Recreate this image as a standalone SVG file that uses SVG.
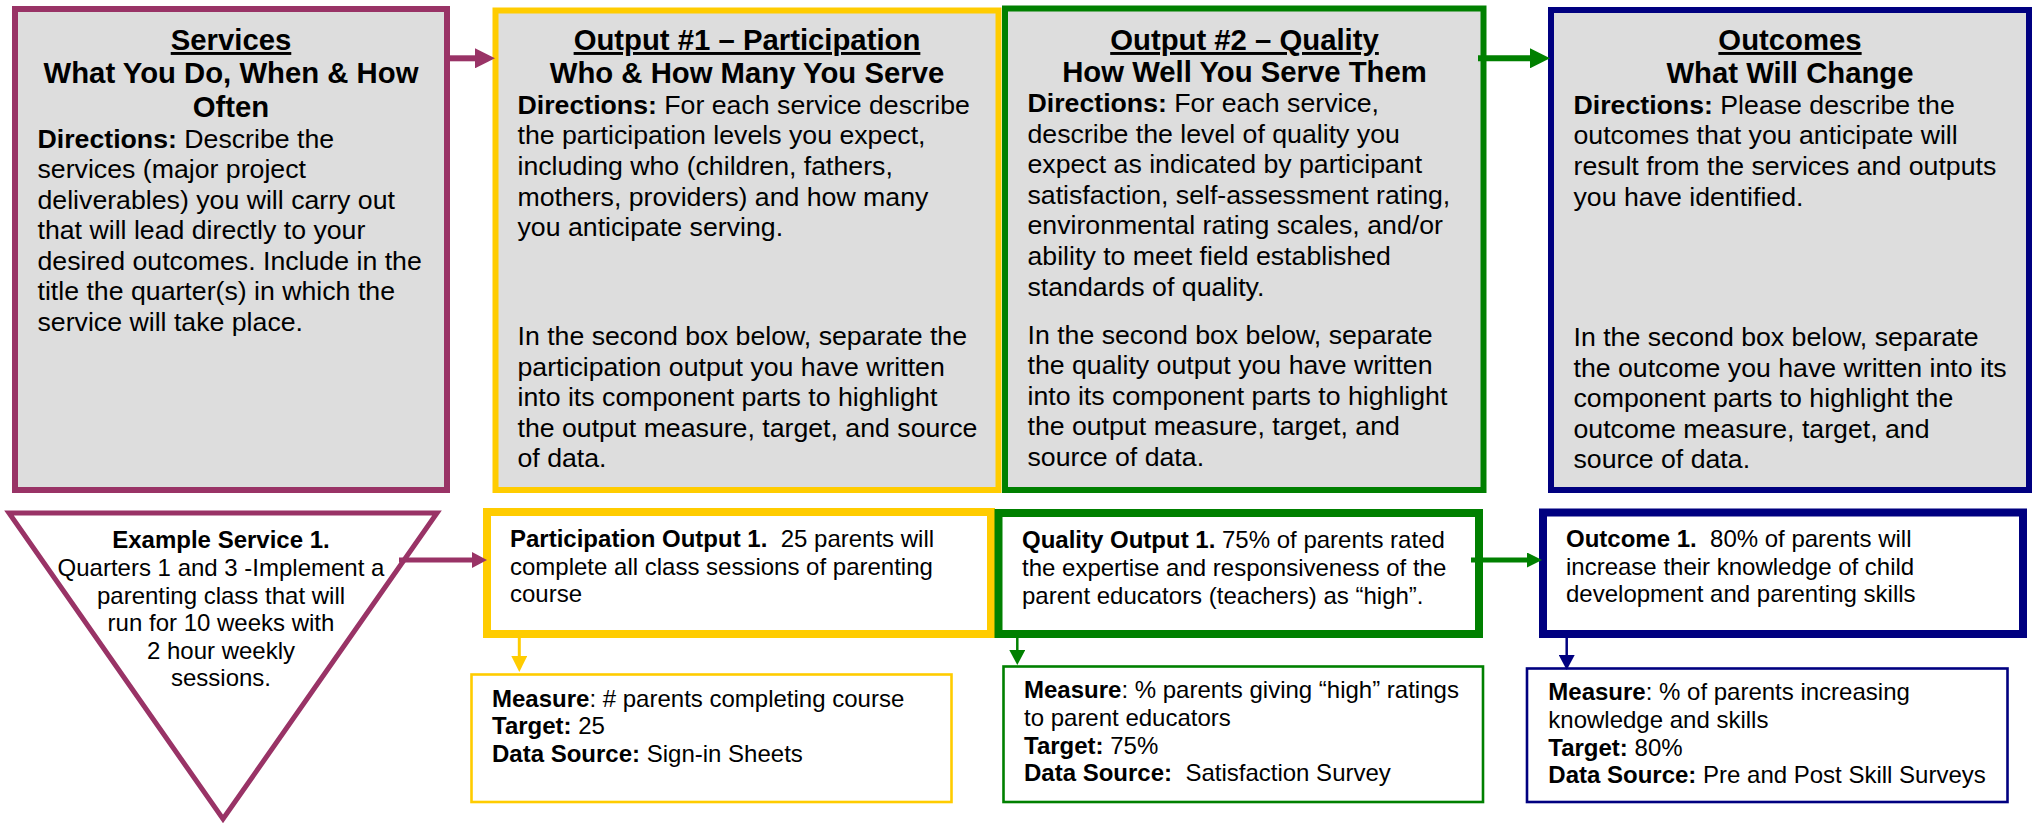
<svg xmlns="http://www.w3.org/2000/svg" width="2032" height="827" viewBox="0 0 2032 827">
<style>
text{font-family:"Liberation Sans",Arial,Helvetica,sans-serif;fill:#000}
.ttl{font-size:29.3px;font-weight:bold;text-anchor:middle}
.u{text-decoration:underline}
.bd{font-size:26.7px}
.sm{font-size:24px}
.b{font-weight:bold}
.top{fill:#dddddd;stroke-width:6}
.mid{fill:#ffffff;stroke-width:8}
.meas{fill:#ffffff;stroke-width:2.6}
.pur{stroke:#993366}.yel{stroke:#ffcc00}.grn{stroke:#008000}.nav{stroke:#000080}
.con{fill:none}
</style>
<defs>
<marker id="hPurL" markerUnits="userSpaceOnUse" viewBox="0 0 20 20" refX="0" refY="10" markerWidth="20" markerHeight="20" orient="auto"><path d="M0,0L20,10L0,20z" fill="#993366"/></marker>
<marker id="hGrnL" markerUnits="userSpaceOnUse" viewBox="0 0 20 20" refX="0" refY="10" markerWidth="20" markerHeight="20" orient="auto"><path d="M0,0L20,10L0,20z" fill="#008000"/></marker>
<marker id="hPurM" markerUnits="userSpaceOnUse" viewBox="0 0 15 16" refX="0" refY="8" markerWidth="15" markerHeight="16" orient="auto"><path d="M0,0L15,8L0,16z" fill="#993366"/></marker>
<marker id="hGrnM" markerUnits="userSpaceOnUse" viewBox="0 0 15 15" refX="0" refY="7.5" markerWidth="15" markerHeight="15" orient="auto"><path d="M0,0L15,7.5L0,15z" fill="#008000"/></marker>
<marker id="hYelS" markerUnits="userSpaceOnUse" viewBox="0 0 16 16" refX="0" refY="8" markerWidth="16" markerHeight="16" orient="auto"><path d="M0,0L16,8L0,16z" fill="#ffcc00"/></marker>
<marker id="hGrnS" markerUnits="userSpaceOnUse" viewBox="0 0 15 16" refX="0" refY="8" markerWidth="15" markerHeight="16" orient="auto"><path d="M0,0L15,8L0,16z" fill="#008000"/></marker>
<marker id="hNavS" markerUnits="userSpaceOnUse" viewBox="0 0 15 16" refX="0" refY="8" markerWidth="15" markerHeight="16" orient="auto"><path d="M0,0L15,8L0,16z" fill="#000080"/></marker>
</defs>

<g id="services">
<rect class="top pur" x="15" y="9" width="432" height="481"/>
<text class="ttl" x="231" y="50"><tspan class="u">Services</tspan></text>
<text class="ttl" x="231" y="82.7">What You Do, When &amp; How</text>
<text class="ttl" x="231" y="116.5">Often</text>
<text class="bd" x="37.5" y="147.7"><tspan class="b">Directions:</tspan> Describe the</text>
<text class="bd" x="37.5" y="178.3">services (major project</text>
<text class="bd" x="37.5" y="208.8">deliverables) you will carry out</text>
<text class="bd" x="37.5" y="239.3">that will lead directly to your</text>
<text class="bd" x="37.5" y="269.8">desired outcomes. Include in the</text>
<text class="bd" x="37.5" y="300.3">title the quarter(s) in which the</text>
<text class="bd" x="37.5" y="330.8">service will take place.</text>
</g>

<g id="output1">
<rect class="top yel" x="495.5" y="10.5" width="503" height="479.5"/>
<text class="ttl" x="747" y="50"><tspan class="u">Output #1 – Participation</tspan></text>
<text class="ttl" x="747" y="82.7">Who &amp; How Many You Serve</text>
<text class="bd" x="517.5" y="113.5"><tspan class="b">Directions:</tspan> For each service describe</text>
<text class="bd" x="517.5" y="144.2">the participation levels you expect,</text>
<text class="bd" x="517.5" y="174.9">including who (children, fathers,</text>
<text class="bd" x="517.5" y="205.6">mothers, providers) and how many</text>
<text class="bd" x="517.5" y="236.3">you anticipate serving.</text>
<text class="bd" x="517.5" y="345">In the second box below, separate the</text>
<text class="bd" x="517.5" y="375.5">participation output you have written</text>
<text class="bd" x="517.5" y="406">into its component parts to highlight</text>
<text class="bd" x="517.5" y="436.5">the output measure, target, and source</text>
<text class="bd" x="517.5" y="467">of data.</text>
</g>

<g id="output2">
<rect class="top grn" x="1005" y="8.5" width="478.5" height="481.5"/>
<text class="ttl" x="1244.5" y="50"><tspan class="u">Output #2 – Quality</tspan></text>
<text class="ttl" x="1244.5" y="82">How Well You Serve Them</text>
<text class="bd" x="1027.5" y="112"><tspan class="b">Directions:</tspan> For each service,</text>
<text class="bd" x="1027.5" y="142.6">describe the level of quality you</text>
<text class="bd" x="1027.5" y="173.2">expect as indicated by participant</text>
<text class="bd" x="1027.5" y="203.8">satisfaction, self-assessment rating,</text>
<text class="bd" x="1027.5" y="234.4">environmental rating scales, and/or</text>
<text class="bd" x="1027.5" y="265">ability to meet field established</text>
<text class="bd" x="1027.5" y="295.6">standards of quality.</text>
<text class="bd" x="1027.5" y="343.5">In the second box below, separate</text>
<text class="bd" x="1027.5" y="374">the quality output you have written</text>
<text class="bd" x="1027.5" y="404.5">into its component parts to highlight</text>
<text class="bd" x="1027.5" y="435">the output measure, target, and</text>
<text class="bd" x="1027.5" y="465.5">source of data.</text>
</g>

<g id="outcomes">
<rect class="top nav" x="1551" y="10" width="478" height="480"/>
<text class="ttl" x="1790" y="50"><tspan class="u">Outcomes</tspan></text>
<text class="ttl" x="1790" y="82.7">What Will Change</text>
<text class="bd" x="1573.5" y="113.5"><tspan class="b">Directions:</tspan> Please describe the</text>
<text class="bd" x="1573.5" y="144.2">outcomes that you anticipate will</text>
<text class="bd" x="1573.5" y="174.9">result from the services and outputs</text>
<text class="bd" x="1573.5" y="205.6">you have identified.</text>
<text class="bd" x="1573.5" y="346">In the second box below, separate</text>
<text class="bd" x="1573.5" y="376.5">the outcome you have written into its</text>
<text class="bd" x="1573.5" y="407">component parts to highlight the</text>
<text class="bd" x="1573.5" y="437.5">outcome measure, target, and</text>
<text class="bd" x="1573.5" y="468">source of data.</text>
</g>

<g id="example-service">
<polygon points="9,513 437,513 223,819" fill="#ffffff" stroke="#993366" stroke-width="5"/>
<text class="sm b" x="221" y="548.3" text-anchor="middle">Example Service 1.</text>
<text class="sm" x="221" y="576" text-anchor="middle">Quarters 1 and 3 -Implement a</text>
<text class="sm" x="221" y="603.5" text-anchor="middle">parenting class that will</text>
<text class="sm" x="221" y="631" text-anchor="middle">run for 10 weeks with</text>
<text class="sm" x="221" y="658.5" text-anchor="middle">2 hour weekly</text>
<text class="sm" x="221" y="686" text-anchor="middle">sessions.</text>
</g>

<g id="participation-output">
<rect class="mid yel" x="487" y="512" width="504" height="122"/>
<text class="sm" x="510" y="546.7" xml:space="preserve"><tspan class="b">Participation Output 1.</tspan>  25 parents will</text>
<text class="sm" x="510" y="574.5">complete all class sessions of parenting</text>
<text class="sm" x="510" y="602.3">course</text>
</g>

<g id="quality-output">
<rect class="mid grn" x="998.5" y="513" width="480.5" height="121"/>
<text class="sm" x="1022" y="548" xml:space="preserve"><tspan class="b">Quality Output 1.</tspan> 75% of parents rated</text>
<text class="sm" x="1022" y="576">the expertise and responsiveness of the</text>
<text class="sm" x="1022" y="604">parent educators (teachers) as “high”.</text>
</g>

<g id="outcome">
<rect class="mid nav" x="1543" y="512.5" width="480" height="121.5"/>
<text class="sm" x="1566" y="546.7" xml:space="preserve"><tspan class="b">Outcome 1.</tspan>  80% of parents will</text>
<text class="sm" x="1566" y="574.5">increase their knowledge of child</text>
<text class="sm" x="1566" y="602.3">development and parenting skills</text>
</g>

<g id="participation-measure">
<rect class="meas yel" x="471.5" y="674.5" width="480" height="127.5"/>
<text class="sm" x="492" y="706.7"><tspan class="b">Measure</tspan>: # parents completing course</text>
<text class="sm" x="492" y="734.2"><tspan class="b">Target:</tspan> 25</text>
<text class="sm" x="492" y="761.7"><tspan class="b">Data Source:</tspan> Sign-in Sheets</text>
</g>

<g id="quality-measure">
<rect class="meas grn" x="1003.5" y="666.5" width="479.5" height="135.5"/>
<text class="sm" x="1024" y="698.3"><tspan class="b">Measure</tspan>: % parents giving “high” ratings</text>
<text class="sm" x="1024" y="726">to parent educators</text>
<text class="sm" x="1024" y="753.7"><tspan class="b">Target:</tspan> 75%</text>
<text class="sm" x="1024" y="781.4" xml:space="preserve"><tspan class="b">Data Source:</tspan>  Satisfaction Survey</text>
</g>

<g id="outcome-measure">
<rect class="meas nav" x="1527" y="668.5" width="480.5" height="133.5"/>
<text class="sm" x="1548.3" y="700"><tspan class="b">Measure</tspan>: % of parents increasing</text>
<text class="sm" x="1548.3" y="727.8">knowledge and skills</text>
<text class="sm" x="1548.3" y="755.6"><tspan class="b">Target:</tspan> 80%</text>
<text class="sm" x="1548.3" y="783.3"><tspan class="b">Data Source:</tspan> Pre and Post Skill Surveys</text>
</g>

<g id="connectors" class="con">
<line x1="450" y1="58.3" x2="475" y2="58.3" stroke="#993366" stroke-width="6" marker-end="url(#hPurL)"/>
<line x1="1478" y1="58.3" x2="1530" y2="58.3" stroke="#008000" stroke-width="6" marker-end="url(#hGrnL)"/>
<line x1="399" y1="560" x2="472" y2="560" stroke="#993366" stroke-width="5" marker-end="url(#hPurM)"/>
<line x1="1471" y1="560" x2="1527" y2="560" stroke="#008000" stroke-width="5" marker-end="url(#hGrnM)"/>
<line x1="519.3" y1="638" x2="519.3" y2="656" stroke="#ffcc00" stroke-width="3" marker-end="url(#hYelS)"/>
<line x1="1017.3" y1="638" x2="1017.3" y2="650" stroke="#008000" stroke-width="2.5" marker-end="url(#hGrnS)"/>
<line x1="1566.7" y1="638" x2="1566.7" y2="655" stroke="#000080" stroke-width="2.5" marker-end="url(#hNavS)"/>
</g>
</svg>
